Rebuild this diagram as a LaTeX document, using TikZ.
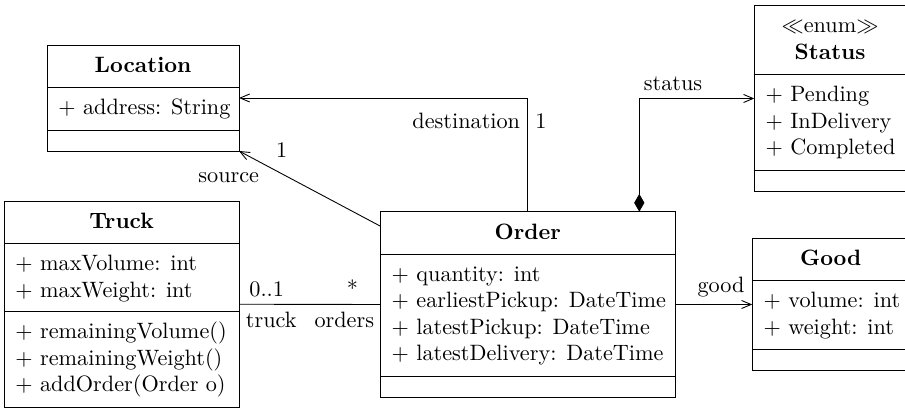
\documentclass[tikz,border=0pt]{standalone}
\usetikzlibrary{arrows.meta,calc,fit}
\begin{document}
\begin{tikzpicture}[x=0.45pt, y=-0.45pt,
  classbox/.style={draw, line width=0.4pt, inner sep=0pt, outer sep=0pt},
  divider/.style={line width=0.4pt},
  lft/.style={inner sep=0pt, anchor=base west},
  rgt/.style={inner sep=0pt, anchor=base east},
  ctr/.style={inner sep=0pt, anchor=base},
  ttl/.style={inner sep=0pt, anchor=base, font=\bfseries},
  assoc/.style={line width=0.4pt, -{Straight Barb[length=4.3pt,width=3.6pt]}},
  compo/.style={line width=0.4pt, {Diamond[length=8pt,width=4.6pt]}-{Straight Barb[length=4.3pt,width=3.6pt]}}]

\clip (0,0) rectangle (905,408);

% ---- class outlines ----
\node[classbox, fit={(47,45) (239,151)}] (location) {};
\draw[divider] (47,87.7) -- (239,87.7);
\draw[divider] (47,130) -- (239,130);

\node[classbox, fit={(4,201.5) (239.3,407)}] (truck) {};
\draw[divider] (4,243.7) -- (239.3,243.7);
\draw[divider] (4,311.7) -- (239.3,311.7);

\node[classbox, fit={(380.3,211.7) (675.3,397.3)}] (order) {};
\draw[divider] (380.3,254) -- (675.3,254);
\draw[divider] (380.3,376.3) -- (675.3,376.3);

\node[classbox, fit={(752.3,238.3) (909.3,370.5)}] (good) {};
\draw[divider] (752.3,280.7) -- (909.3,280.7);
\draw[divider] (752.3,349.5) -- (909.3,349.5);

\node[classbox, fit={(754.3,5.7) (905.9,191.3)}] (status) {};
\draw[divider] (754.3,74.5) -- (905.9,74.5);
\draw[divider] (754.3,170.5) -- (905.9,170.5);

% ---- class contents ----
\node[ttl] (location-name) at (143,72.3) {Location};
\node[lft] (location-a1) at (58,115) {+ address: String};

\node[ttl] (truck-name) at (121.6,228.5) {Truck};
\node[lft] (truck-a1) at (15,271) {+ maxVolume: int};
\node[lft] (truck-a2) at (15,297.5) {+ maxWeight: int};
\node[lft] (truck-o1) at (15,339) {+ remainingVolume()};
\node[lft] (truck-o2) at (15,365.5) {+ remainingWeight()};
\node[lft] (truck-o3) at (15,392) {+ addOrder(Order o)};

\node[ttl] (order-name) at (527.8,239.3) {Order};
\node[lft] (order-a1) at (391.3,281.3) {+ quantity: int};
\node[lft] (order-a2) at (391.3,307.7) {+ earliestPickup: DateTime};
\node[lft] (order-a3) at (391.3,334.1) {+ latestPickup: DateTime};
\node[lft] (order-a4) at (391.3,360.5) {+ latestDelivery: DateTime};

\node[ttl] (good-name) at (830.8,265.6) {Good};
\node[lft] (good-a1) at (763.3,308) {+ volume: int};
\node[lft] (good-a2) at (763.3,334.4) {+ weight: int};

\node[ctr] (status-stereo) at (830.1,33) {$\ll$enum$\gg$};
\node[ttl] (status-name) at (830.1,59.5) {Status};
\node[lft] (status-v1) at (765.3,101.8) {+ Pending};
\node[lft] (status-v2) at (765.3,128.2) {+ InDelivery};
\node[lft] (status-v3) at (765.3,154.6) {+ Completed};

% ---- associations ----
\draw[assoc] (order.north) |- (location.east);
\node[rgt] (dest-role) at (520.5,129) {destination};
\node[lft] (dest-mult) at (535,129) {1};

\draw[assoc] (order) -- (location.south east);
\node[rgt] (src-role) at (259.5,182.5) {source};
\node[ctr] (src-mult) at (281.7,157.7) {1};

\draw[line width=0.4pt] (truck.east) -- (order.west);
\node[lft] (truck-mult) at (249,296.7) {0..1};
\node[ctr] (orders-mult) at (352.5,297) {*};
\node[lft] (truck-role) at (245.5,328) {truck};
\node[rgt] (orders-role) at (374.5,328) {orders};

\coordinate (status-end) at ($(order.north east)+(-36,0)$);
\draw[compo] (status-end) |- (status.west);
\node[lft] (status-role) at (643.5,91) {status};

\draw[assoc] (order.east) -- (order.east -| good.west);
\node[rgt] (good-role) at (745,293) {good};
\end{tikzpicture}
\end{document}
